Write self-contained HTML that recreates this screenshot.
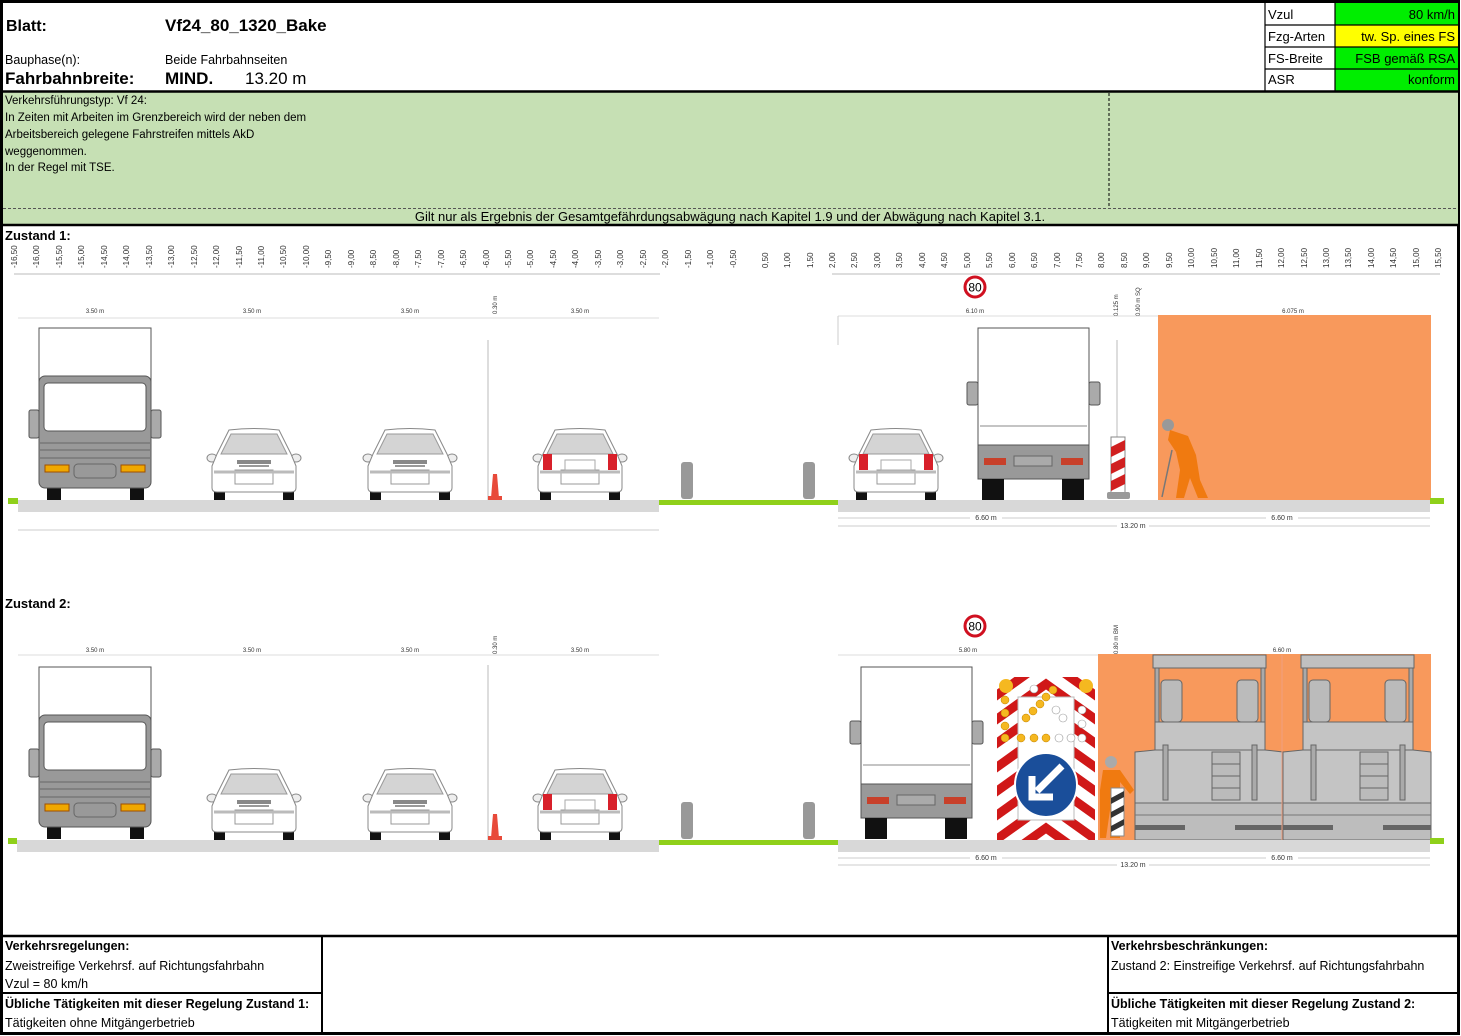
<!DOCTYPE html>
<html><head><meta charset="utf-8"><style>
html,body{margin:0;padding:0;background:#fff}
svg{display:block}
text{font-family:"Liberation Sans",Arial,sans-serif}
</style></head><body>
<svg width="1461" height="1036" viewBox="0 0 1461 1036" xmlns="http://www.w3.org/2000/svg">
<defs>
<g id="car">
 <rect x="5" y="50" width="11" height="22" fill="#111"/>
 <rect x="74" y="50" width="11" height="22" fill="#111"/>
 <ellipse cx="3" cy="30" rx="5" ry="4" fill="#eee" stroke="#888"/>
 <ellipse cx="87" cy="30" rx="5" ry="4" fill="#eee" stroke="#888"/>
 <path d="M20,2 Q45,-1 70,2 L82,26 L87,38 L87,60 Q87,64 82,64 L8,64 Q3,64 3,60 L3,38 L8,26 Z" fill="#fff" stroke="#888"/>
 <path d="M22,6 L68,6 L78,26 L12,26 Z" fill="#d4d4d4" stroke="#999"/>
 <rect x="26" y="42" width="38" height="14" fill="#fff" stroke="#999"/>
 <line x1="5" y1="44" x2="85" y2="44" stroke="#bbb" stroke-width="3"/>
</g>
<g id="carF">
 <use href="#car"/>
 <rect x="28" y="32" width="34" height="4" fill="#888"/>
 <rect x="30" y="37" width="30" height="2" fill="#999"/>
</g>
<g id="carR">
 <use href="#car"/>
 <rect x="8" y="26" width="9" height="16" fill="#d8202a"/>
 <rect x="73" y="26" width="9" height="16" fill="#d8202a"/>
 <rect x="30" y="32" width="30" height="10" fill="#fff" stroke="#aaa"/>
</g>
<g id="truckF">
 <rect x="1" y="0" width="112" height="70" fill="#fff" stroke="#555"/>
 <rect x="-9" y="82" width="10" height="28" rx="2" fill="#aaa" stroke="#555"/>
 <rect x="113" y="82" width="10" height="28" rx="2" fill="#aaa" stroke="#555"/>
 <rect x="9" y="148" width="14" height="24" fill="#111"/>
 <rect x="92" y="148" width="14" height="24" fill="#111"/>
 <rect x="1" y="48" width="112" height="112" rx="6" fill="#999" stroke="#555"/>
 <rect x="6" y="55" width="102" height="48" rx="4" fill="#fff" stroke="#555"/>
 <line x1="2" y1="115" x2="112" y2="115" stroke="#666"/>
 <line x1="2" y1="122" x2="112" y2="122" stroke="#666"/>
 <line x1="2" y1="130" x2="112" y2="130" stroke="#666"/>
 <rect x="36" y="136" width="42" height="14" rx="4" fill="#999" stroke="#666"/>
 <rect x="7" y="137" width="24" height="7" fill="#f0a800" stroke="#a05000"/>
 <rect x="83" y="137" width="24" height="7" fill="#f0a800" stroke="#a05000"/>
</g>
<g id="truckR">
 <rect x="-11" y="54" width="11" height="23" rx="2" fill="#aaa" stroke="#555"/>
 <rect x="111" y="54" width="11" height="23" rx="2" fill="#aaa" stroke="#555"/>
 <rect x="0" y="0" width="111" height="117" fill="#fff" stroke="#555"/>
 <line x1="2" y1="98" x2="109" y2="98" stroke="#888"/>
 <rect x="0" y="117" width="111" height="34" fill="#999" stroke="#555"/>
 <rect x="6" y="130" width="22" height="7" fill="#c8402a"/>
 <rect x="83" y="130" width="22" height="7" fill="#c8402a"/>
 <rect x="36" y="128" width="38" height="10" fill="#aaa" stroke="#666"/>
 <rect x="4" y="151" width="22" height="21" fill="#111"/>
 <rect x="84" y="151" width="22" height="21" fill="#111"/>
</g>
<g id="paver">
 <rect x="1153" y="655" width="113" height="13" fill="#c0c0c0" stroke="#666"/>
 <rect x="1155" y="668" width="4" height="82" fill="#aaa" stroke="#666"/>
 <rect x="1261" y="668" width="4" height="82" fill="#aaa" stroke="#666"/>
 <rect x="1161" y="680" width="21" height="42" rx="4" fill="#bbb" stroke="#666"/>
 <rect x="1237" y="680" width="21" height="42" rx="4" fill="#bbb" stroke="#666"/>
 <rect x="1155" y="722" width="110" height="28" fill="#c4c4c4" stroke="#666"/>
 <path d="M1135,752 L1155,750 L1265,750 L1283,752 L1283,803 L1135,803 Z" fill="#c4c4c4" stroke="#666"/>
 <rect x="1212" y="752" width="28" height="48" fill="#bbb" stroke="#666"/>
 <line x1="1212" y1="764" x2="1240" y2="764" stroke="#666"/>
 <line x1="1212" y1="776" x2="1240" y2="776" stroke="#666"/>
 <line x1="1212" y1="788" x2="1240" y2="788" stroke="#666"/>
 <rect x="1163" y="745" width="5" height="55" fill="#aaa" stroke="#666"/>
 <rect x="1252" y="745" width="5" height="55" fill="#aaa" stroke="#666"/>
 <rect x="1135" y="803" width="148" height="37" fill="#bdbdbd" stroke="#666"/>
 <rect x="1135" y="825" width="50" height="5" fill="#666"/>
 <rect x="1235" y="825" width="48" height="5" fill="#666"/>
 <line x1="1135" y1="815" x2="1283" y2="815" stroke="#777"/>
</g>
<g id="sign80">
 <circle cx="0" cy="0" r="10" fill="#fff" stroke="#d01020" stroke-width="3"/>
 <text x="0" y="4.5" font-size="12" text-anchor="middle" fill="#000">80</text>
</g>
</defs>

<!-- outer frame -->
<rect x="1.5" y="1.5" width="1457" height="1032" fill="#fff" stroke="#000" stroke-width="3"/>

<!-- header -->
<text x="6" y="31" font-size="16" font-weight="bold">Blatt:</text>
<text x="165" y="31" font-size="17" font-weight="bold">Vf24_80_1320_Bake</text>
<text x="5" y="64" font-size="12.5">Bauphase(n):</text>
<text x="165" y="64" font-size="12.5">Beide Fahrbahnseiten</text>
<text x="5" y="84" font-size="17" font-weight="bold">Fahrbahnbreite:</text>
<text x="165" y="84" font-size="17" font-weight="bold">MIND.</text>
<text x="245" y="84" font-size="17">13.20 m</text>

<!-- right table -->
<rect x="1265" y="3" width="70" height="88" fill="#fff"/>
<rect x="1335" y="3" width="123" height="22" fill="#00ee00"/>
<rect x="1335" y="25" width="123" height="22" fill="#ffff00"/>
<rect x="1335" y="47" width="123" height="22" fill="#00ee00"/>
<rect x="1335" y="69" width="123" height="22" fill="#00ee00"/>
<g stroke="#000" stroke-width="1.2">
<line x1="1265" y1="2" x2="1265" y2="91"/>
<line x1="1335" y1="2" x2="1335" y2="91"/>
<line x1="1265" y1="25" x2="1458" y2="25"/>
<line x1="1265" y1="47" x2="1458" y2="47"/>
<line x1="1265" y1="69" x2="1458" y2="69"/>
</g>
<g font-size="13">
<text x="1268" y="19">Vzul</text><text x="1455" y="19" text-anchor="end">80 km/h</text>
<text x="1268" y="41">Fzg-Arten</text><text x="1455" y="41" text-anchor="end">tw. Sp. eines FS</text>
<text x="1268" y="63">FS-Breite</text><text x="1455" y="63" text-anchor="end">FSB gemäß RSA</text>
<text x="1268" y="84">ASR</text><text x="1455" y="84" text-anchor="end">konform</text>
</g>

<!-- green band -->
<rect x="3" y="92" width="1455" height="133" fill="#c6e0b4"/>
<line x1="2" y1="91.5" x2="1459" y2="91.5" stroke="#000" stroke-width="2.5"/>
<line x1="2" y1="225" x2="1459" y2="225" stroke="#000" stroke-width="2.5"/>
<line x1="1109" y1="93" x2="1109" y2="208" stroke="#000" stroke-dasharray="3,2"/>
<line x1="3" y1="208.5" x2="1458" y2="208.5" stroke="#555" stroke-dasharray="3,2"/>
<g font-size="11.5">
<text x="5" y="104">Verkehrsführungstyp: Vf 24:</text>
<text x="5" y="121">In Zeiten mit Arbeiten im Grenzbereich wird der neben dem</text>
<text x="5" y="138">Arbeitsbereich gelegene Fahrstreifen mittels AkD</text>
<text x="5" y="155">weggenommen.</text>
<text x="5" y="171">In der Regel mit TSE.</text>
</g>
<text x="730" y="221" font-size="13" text-anchor="middle">Gilt nur als Ergebnis der Gesamtgefährdungsabwägung nach Kapitel 1.9 und der Abwägung nach Kapitel 3.1.</text>

<text x="5" y="240" font-size="13" font-weight="bold">Zustand 1:</text>

<!-- ruler -->
<line x1="14" y1="274" x2="660" y2="274" stroke="#bbb"/>
<line x1="832" y1="274" x2="1440" y2="274" stroke="#bbb"/>
<g font-size="8" fill="#333">
<text transform="translate(17,268) rotate(-90)">-16,50</text>
<text transform="translate(39,268) rotate(-90)">-16,00</text>
<text transform="translate(62,268) rotate(-90)">-15,50</text>
<text transform="translate(84,268) rotate(-90)">-15,00</text>
<text transform="translate(107,268) rotate(-90)">-14,50</text>
<text transform="translate(129,268) rotate(-90)">-14,00</text>
<text transform="translate(152,268) rotate(-90)">-13,50</text>
<text transform="translate(174,268) rotate(-90)">-13,00</text>
<text transform="translate(197,268) rotate(-90)">-12,50</text>
<text transform="translate(219,268) rotate(-90)">-12,00</text>
<text transform="translate(242,268) rotate(-90)">-11,50</text>
<text transform="translate(264,268) rotate(-90)">-11,00</text>
<text transform="translate(286,268) rotate(-90)">-10,50</text>
<text transform="translate(309,268) rotate(-90)">-10,00</text>
<text transform="translate(331,268) rotate(-90)">-9,50</text>
<text transform="translate(354,268) rotate(-90)">-9,00</text>
<text transform="translate(376,268) rotate(-90)">-8,50</text>
<text transform="translate(399,268) rotate(-90)">-8,00</text>
<text transform="translate(421,268) rotate(-90)">-7,50</text>
<text transform="translate(444,268) rotate(-90)">-7,00</text>
<text transform="translate(466,268) rotate(-90)">-6,50</text>
<text transform="translate(489,268) rotate(-90)">-6,00</text>
<text transform="translate(511,268) rotate(-90)">-5,50</text>
<text transform="translate(533,268) rotate(-90)">-5,00</text>
<text transform="translate(556,268) rotate(-90)">-4,50</text>
<text transform="translate(578,268) rotate(-90)">-4,00</text>
<text transform="translate(601,268) rotate(-90)">-3,50</text>
<text transform="translate(623,268) rotate(-90)">-3,00</text>
<text transform="translate(646,268) rotate(-90)">-2,50</text>
<text transform="translate(668,268) rotate(-90)">-2,00</text>
<text transform="translate(691,268) rotate(-90)">-1,50</text>
<text transform="translate(713,268) rotate(-90)">-1,00</text>
<text transform="translate(736,268) rotate(-90)">-0,50</text>
<text transform="translate(768,268) rotate(-90)">0,50</text>
<text transform="translate(790,268) rotate(-90)">1,00</text>
<text transform="translate(813,268) rotate(-90)">1,50</text>
<text transform="translate(835,268) rotate(-90)">2,00</text>
<text transform="translate(857,268) rotate(-90)">2,50</text>
<text transform="translate(880,268) rotate(-90)">3,00</text>
<text transform="translate(902,268) rotate(-90)">3,50</text>
<text transform="translate(925,268) rotate(-90)">4,00</text>
<text transform="translate(947,268) rotate(-90)">4,50</text>
<text transform="translate(970,268) rotate(-90)">5,00</text>
<text transform="translate(992,268) rotate(-90)">5,50</text>
<text transform="translate(1015,268) rotate(-90)">6,00</text>
<text transform="translate(1037,268) rotate(-90)">6,50</text>
<text transform="translate(1060,268) rotate(-90)">7,00</text>
<text transform="translate(1082,268) rotate(-90)">7,50</text>
<text transform="translate(1104,268) rotate(-90)">8,00</text>
<text transform="translate(1127,268) rotate(-90)">8,50</text>
<text transform="translate(1149,268) rotate(-90)">9,00</text>
<text transform="translate(1172,268) rotate(-90)">9,50</text>
<text transform="translate(1194,268) rotate(-90)">10,00</text>
<text transform="translate(1217,268) rotate(-90)">10,50</text>
<text transform="translate(1239,268) rotate(-90)">11,00</text>
<text transform="translate(1262,268) rotate(-90)">11,50</text>
<text transform="translate(1284,268) rotate(-90)">12,00</text>
<text transform="translate(1307,268) rotate(-90)">12,50</text>
<text transform="translate(1329,268) rotate(-90)">13,00</text>
<text transform="translate(1351,268) rotate(-90)">13,50</text>
<text transform="translate(1374,268) rotate(-90)">14,00</text>
<text transform="translate(1396,268) rotate(-90)">14,50</text>
<text transform="translate(1419,268) rotate(-90)">15,00</text>
<text transform="translate(1441,268) rotate(-90)">15,50</text>
</g>

<!-- ZUSTAND 1 -->
<g font-size="6" fill="#333" text-anchor="middle">
<text x="95" y="313">3.50 m</text><text x="252" y="313">3.50 m</text>
<text x="410" y="313">3.50 m</text><text x="580" y="313">3.50 m</text>
<text transform="translate(497,314) rotate(-90)" text-anchor="start">0.30 m</text>
<text x="975" y="313">6.10 m</text><text x="1293" y="313">6.075 m</text>
<text transform="translate(1118,316) rotate(-90)" text-anchor="start">0.125 m</text>
<text transform="translate(1140,316) rotate(-90)" text-anchor="start">0.90 m SQ</text>
</g>
<line x1="18" y1="318" x2="659" y2="318" stroke="#ddd"/>
<line x1="838" y1="316" x2="1430" y2="316" stroke="#ddd"/>
<line x1="838" y1="316" x2="838" y2="345" stroke="#ccc"/>
<line x1="488" y1="340" x2="488" y2="500" stroke="#bbb"/>
<line x1="1117" y1="340" x2="1117" y2="440" stroke="#bbb"/>
<use href="#sign80" x="975" y="287"/>

<rect x="1158" y="315" width="273" height="185" fill="#f8995c"/>

<use href="#truckF" x="38" y="328"/>
<use href="#carF" x="209" y="428"/>
<use href="#carF" x="365" y="428"/>
<use href="#carR" x="535" y="428"/>
<path d="M491,498 L493,474 L497,474 L499,498 Z" fill="#e84a3a"/>
<rect x="488" y="496" width="14" height="4" fill="#e84a3a"/>
<rect x="681" y="462" width="12" height="37" rx="3" fill="#999"/>
<rect x="803" y="462" width="12" height="37" rx="3" fill="#999"/>
<use href="#carR" x="851" y="428"/>
<use href="#truckR" x="978" y="328"/>
<!-- bake -->
<rect x="1111" y="437" width="14" height="56" fill="#fff" stroke="#888"/>
<path d="M1111,447 L1125,440 L1125,450 L1111,457 Z M1111,464 L1125,457 L1125,467 L1111,474 Z M1111,481 L1125,474 L1125,484 L1111,491 Z" fill="#d02020"/>
<rect x="1107" y="492" width="23" height="7" rx="2" fill="#999"/>
<!-- worker 1 -->
<circle cx="1168" cy="425" r="6" fill="#999"/>
<path d="M1170,430 L1188,436 L1196,455 L1200,480 L1208,498 L1198,498 L1190,478 L1184,498 L1176,498 L1180,470 L1176,452 L1168,440 Z" fill="#f07a10"/>
<line x1="1172" y1="450" x2="1162" y2="497" stroke="#777" stroke-width="1.5"/>

<!-- road 1 -->
<rect x="18" y="500" width="641" height="12" fill="#d8d8d8"/>
<rect x="838" y="500" width="592" height="12" fill="#d8d8d8"/>
<rect x="8" y="498" width="10" height="6" fill="#8fd01a"/>
<rect x="659" y="500" width="179" height="5" fill="#8fd01a"/>
<rect x="1430" y="498" width="14" height="6" fill="#8fd01a"/>
<line x1="18" y1="530" x2="659" y2="530" stroke="#ccc"/>
<line x1="838" y1="518" x2="1430" y2="518" stroke="#bbb" stroke-width="0.8"/>
<line x1="838" y1="526" x2="1430" y2="526" stroke="#bbb" stroke-width="0.8"/>
<g font-size="7" fill="#333" text-anchor="middle">
<rect x="970" y="513" width="32" height="9" fill="#fff"/><text x="986" y="520">6.60 m</text>
<rect x="1266" y="513" width="32" height="9" fill="#fff"/><text x="1282" y="520">6.60 m</text>
<rect x="1117" y="521" width="32" height="9" fill="#fff"/><text x="1133" y="528">13.20 m</text>
</g>

<!-- ZUSTAND 2 -->
<text x="5" y="608" font-size="13" font-weight="bold">Zustand 2:</text>
<g font-size="6" fill="#333" text-anchor="middle">
<text x="95" y="652">3.50 m</text><text x="252" y="652">3.50 m</text>
<text x="410" y="652">3.50 m</text><text x="580" y="652">3.50 m</text>
<text transform="translate(497,654) rotate(-90)" text-anchor="start">0.30 m</text>
<text x="968" y="652">5.80 m</text><text x="1282" y="652">6.60 m</text>
<text transform="translate(1118,654) rotate(-90)" text-anchor="start">0.80 m BM</text>
</g>
<line x1="18" y1="655" x2="659" y2="655" stroke="#ddd"/>
<line x1="838" y1="655" x2="1098" y2="655" stroke="#ddd"/>
<line x1="488" y1="665" x2="488" y2="840" stroke="#bbb"/>
<use href="#sign80" x="975" y="626"/>

<rect x="1098" y="654" width="333" height="186" fill="#f8995c"/>
<use href="#paver"/>
<use href="#paver" x="148"/>
<line x1="1282" y1="655" x2="1282" y2="840" stroke="#f0a080"/>

<use href="#truckF" x="38" y="667"/>
<use href="#carF" x="209" y="768"/>
<use href="#carF" x="365" y="768"/>
<use href="#carR" x="535" y="768"/>
<path d="M491,838 L493,814 L497,814 L499,838 Z" fill="#e84a3a"/>
<rect x="488" y="836" width="14" height="4" fill="#e84a3a"/>
<rect x="681" y="802" width="12" height="37" rx="3" fill="#999"/>
<rect x="803" y="802" width="12" height="37" rx="3" fill="#999"/>
<use href="#truckR" x="861" y="667" transform="translate(0,0)"/>

<!-- arrow board -->
<clipPath id="ab"><rect x="997" y="677" width="98" height="163"/></clipPath>
<rect x="997" y="677" width="98" height="163" fill="#fff"/>
<g clip-path="url(#ab)" stroke="#d01818" stroke-width="9">
<path d="M990,700 L1046,660 L1102,700 M990,724 L1046,684 L1102,724 M990,748 L1046,708 L1102,748 M990,772 L1046,732 L1102,772 M990,796 L1046,756 L1102,796 M990,820 L1046,780 L1102,820 M990,844 L1046,804 L1102,844 M990,868 L1046,828 L1102,868" fill="none"/>
</g>
<rect x="1018" y="697" width="56" height="123" fill="#fff" stroke="#bbb"/>
<circle cx="1006" cy="686" r="7" fill="#f5b820"/>
<circle cx="1086" cy="686" r="7" fill="#f5b820"/>
<g fill="#f5b820" stroke="#c08000" stroke-width="0.5">
<circle cx="1005" cy="700" r="4"/><circle cx="1005" cy="713" r="4"/><circle cx="1005" cy="726" r="4"/><circle cx="1005" cy="738" r="4"/>
<circle cx="1021" cy="738" r="4"/><circle cx="1034" cy="738" r="4"/><circle cx="1046" cy="738" r="4"/>
<circle cx="1026" cy="718" r="4"/><circle cx="1033" cy="711" r="4"/><circle cx="1040" cy="704" r="4"/><circle cx="1046" cy="697" r="4"/><circle cx="1053" cy="690" r="4"/>
</g>
<g fill="#fff" stroke="#999" stroke-width="0.6">
<circle cx="1059" cy="738" r="4"/><circle cx="1071" cy="738" r="4"/><circle cx="1082" cy="738" r="4"/>
<circle cx="1082" cy="724" r="4"/><circle cx="1082" cy="710" r="4"/><circle cx="1063" cy="718" r="4"/><circle cx="1056" cy="710" r="4"/><circle cx="1034" cy="689" r="4"/>
</g>
<ellipse cx="1046" cy="785" rx="31" ry="32" fill="#1a4e9a" stroke="#fff" stroke-width="2"/>
<path d="M1062,766 L1037,791 M1032,776 L1032,797 L1053,797" stroke="#fff" stroke-width="7" fill="none"/>

<!-- worker 2 + bake -->
<circle cx="1111" cy="762" r="6" fill="#aaa"/>
<path d="M1103,770 L1120,770 L1134,790 L1130,794 L1120,782 L1120,838 L1110,838 L1110,810 L1106,838 L1100,838 L1100,790 Z" fill="#f07a10"/>
<rect x="1111" y="788" width="13" height="48" fill="#fff" stroke="#888"/>
<path d="M1111,798 L1124,791 L1124,797 L1111,804 Z M1111,812 L1124,805 L1124,811 L1111,818 Z M1111,826 L1124,819 L1124,825 L1111,832 Z" fill="#333"/>

<!-- road 2 -->
<rect x="17" y="840" width="642" height="12" fill="#d8d8d8"/>
<rect x="838" y="840" width="592" height="12" fill="#d8d8d8"/>
<rect x="8" y="838" width="9" height="6" fill="#8fd01a"/>
<rect x="659" y="840" width="179" height="5" fill="#8fd01a"/>
<rect x="1430" y="838" width="14" height="6" fill="#8fd01a"/>
<line x1="838" y1="858" x2="1430" y2="858" stroke="#bbb" stroke-width="0.8"/>
<line x1="838" y1="865" x2="1430" y2="865" stroke="#bbb" stroke-width="0.8"/>
<g font-size="7" fill="#333" text-anchor="middle">
<rect x="970" y="853" width="32" height="9" fill="#fff"/><text x="986" y="860">6.60 m</text>
<rect x="1266" y="853" width="32" height="9" fill="#fff"/><text x="1282" y="860">6.60 m</text>
<rect x="1117" y="860" width="32" height="9" fill="#fff"/><text x="1133" y="867">13.20 m</text>
</g>

<!-- bottom table -->
<line x1="2" y1="936" x2="1459" y2="936" stroke="#000" stroke-width="2.5"/>
<line x1="322" y1="936" x2="322" y2="1034" stroke="#000" stroke-width="2"/>
<line x1="1108" y1="936" x2="1108" y2="1034" stroke="#000" stroke-width="2"/>
<line x1="2" y1="993" x2="322" y2="993" stroke="#000" stroke-width="2"/>
<line x1="1108" y1="993" x2="1459" y2="993" stroke="#000" stroke-width="2"/>
<g font-size="12.5">
<text x="5" y="950" font-weight="bold">Verkehrsregelungen:</text>
<text x="5" y="970">Zweistreifige Verkehrsf. auf Richtungsfahrbahn</text>
<text x="5" y="988">Vzul = 80 km/h</text>
<text x="5" y="1008" font-weight="bold">Übliche Tätigkeiten mit dieser Regelung Zustand 1:</text>
<text x="5" y="1027">Tätigkeiten ohne Mitgängerbetrieb</text>
<text x="1111" y="950" font-weight="bold">Verkehrsbeschränkungen:</text>
<text x="1111" y="970">Zustand 2: Einstreifige Verkehrsf. auf Richtungsfahrbahn</text>
<text x="1111" y="1008" font-weight="bold">Übliche Tätigkeiten mit dieser Regelung Zustand 2:</text>
<text x="1111" y="1027">Tätigkeiten mit Mitgängerbetrieb</text>
</g>
</svg>
</body></html>
